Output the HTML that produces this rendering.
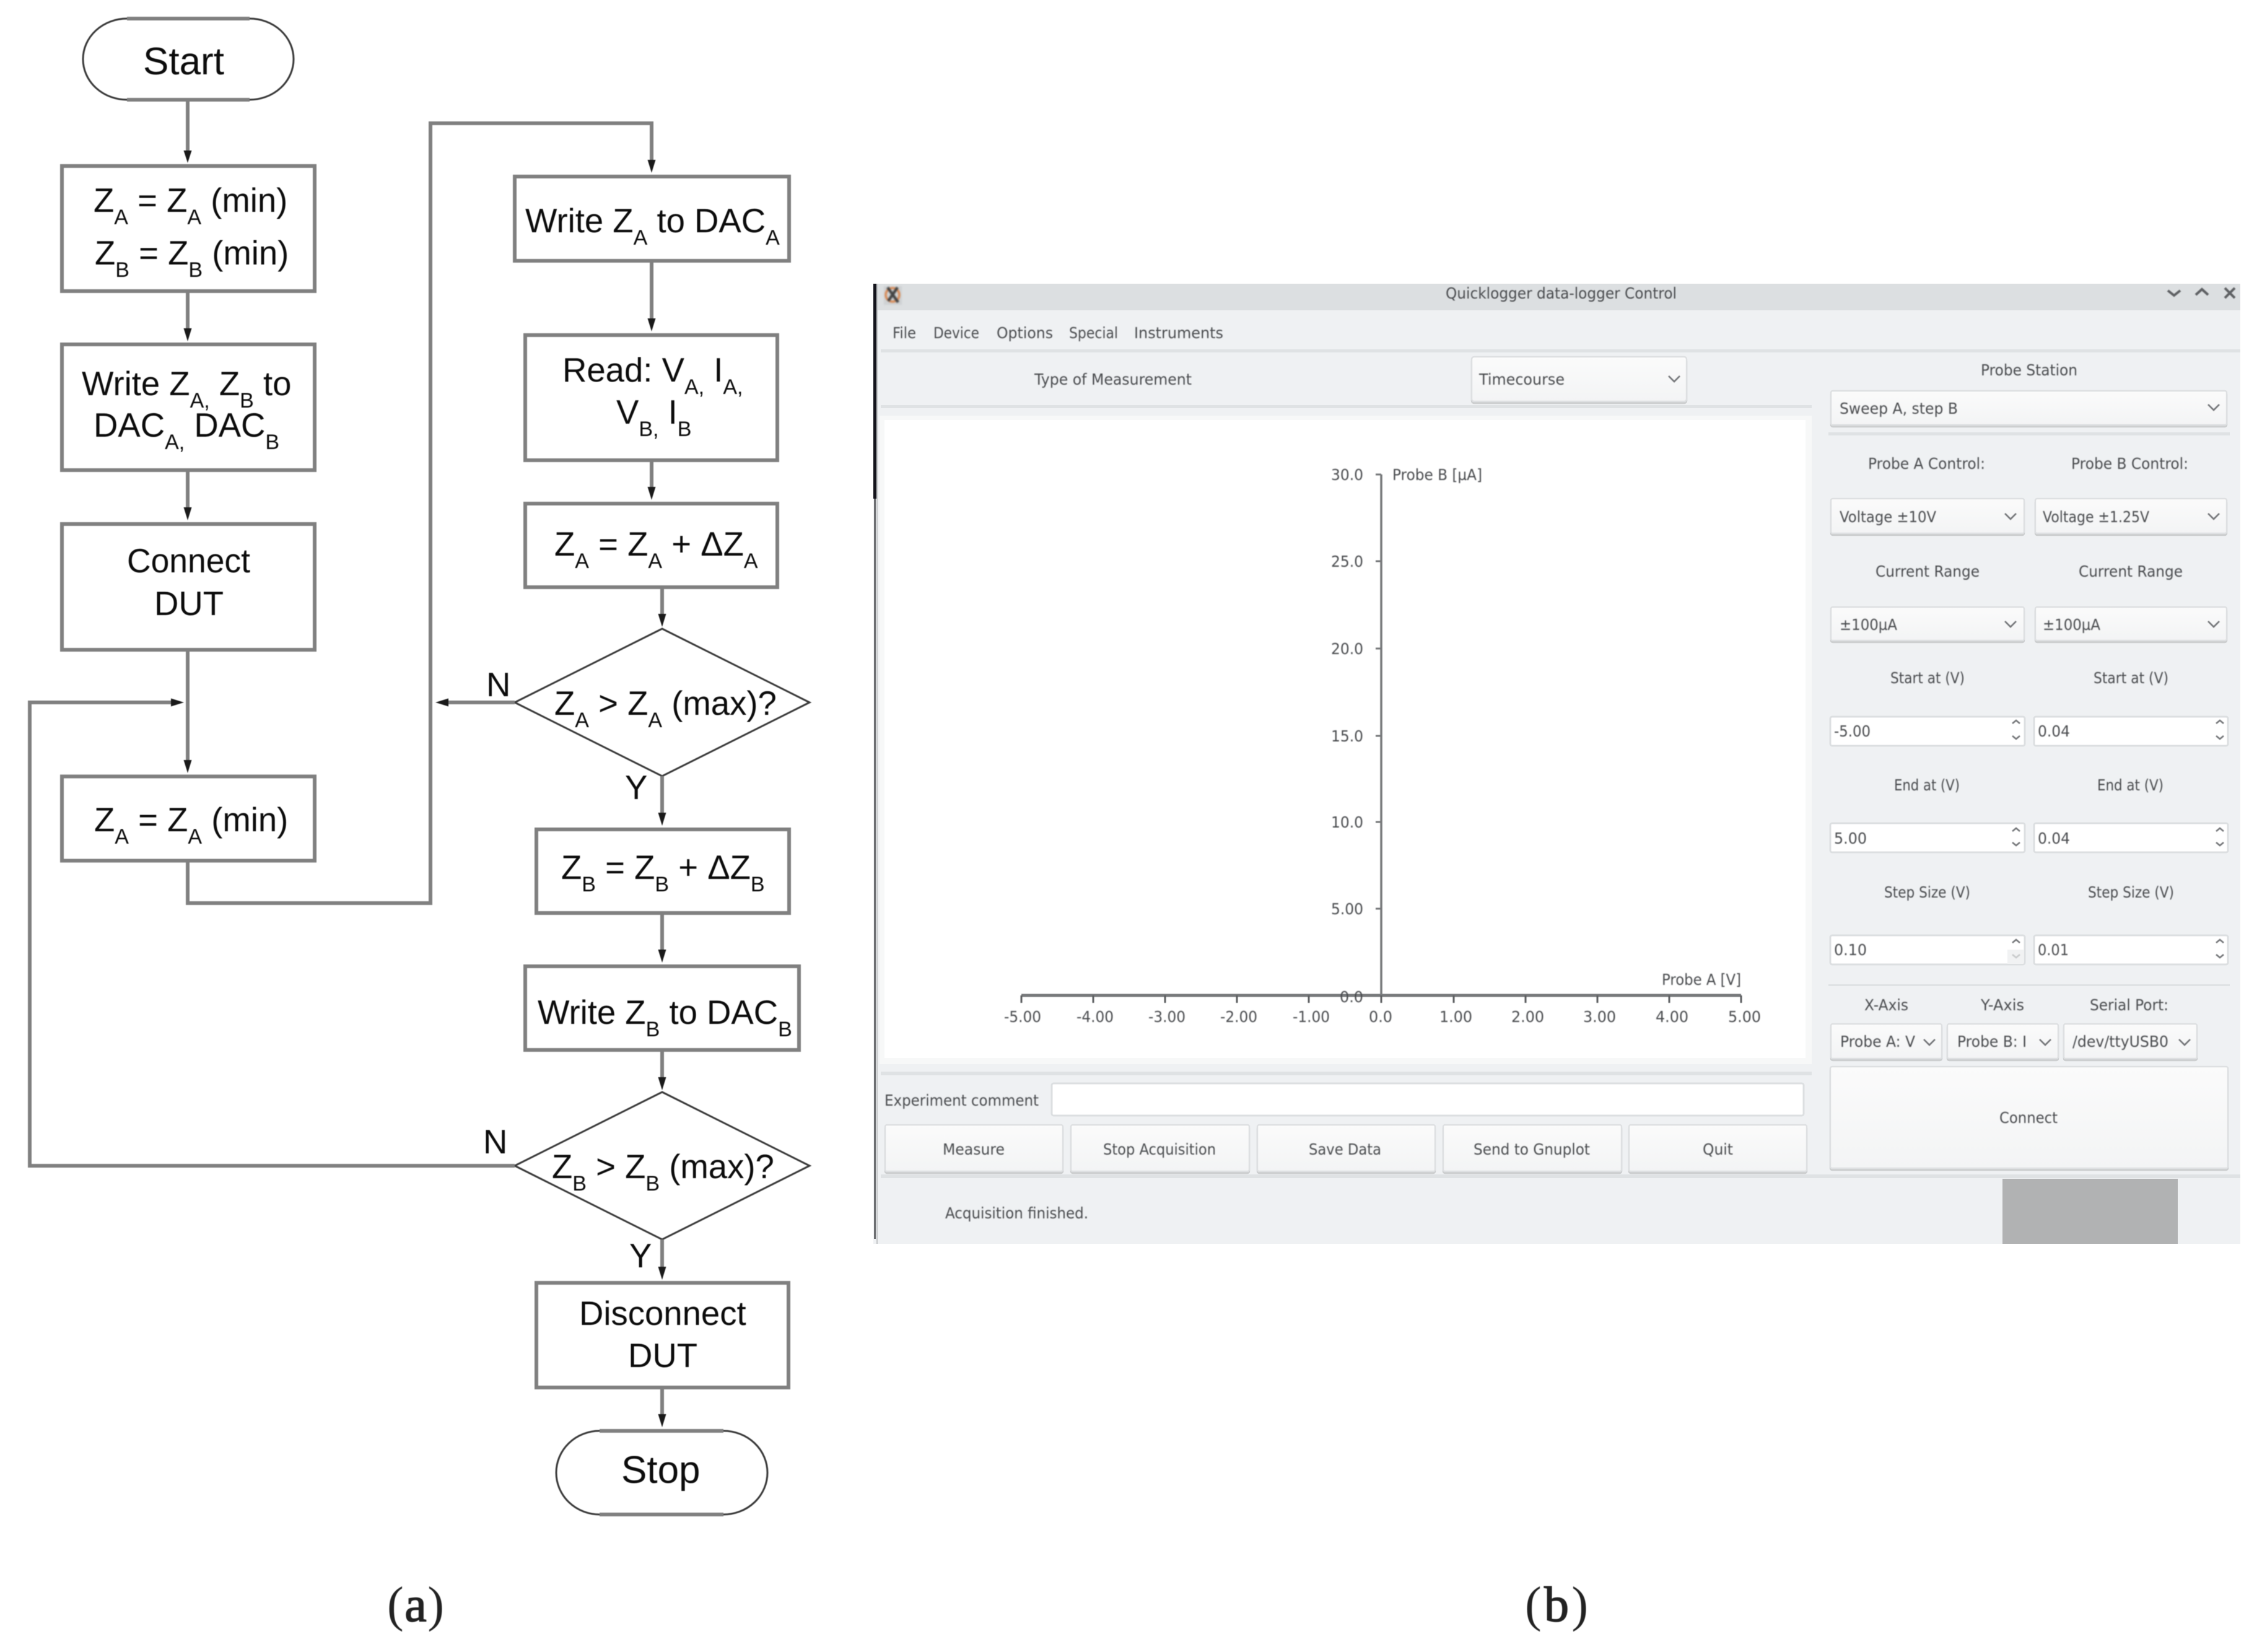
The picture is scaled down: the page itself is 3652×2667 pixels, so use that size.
<!DOCTYPE html>
<html><head><meta charset="utf-8"><title>Flowchart and Quicklogger control</title>
<style>
html,body{margin:0;padding:0;background:#fff}
svg{display:block}
.l{stroke:#808080;stroke-width:6;fill:none}
.t{stroke:#3a3a3a;stroke-width:3;fill:none}
.a{fill:#1a1a1a}
.f{font-family:"Liberation Sans",Arial,sans-serif;font-size:54.5px;fill:#0c0c0c}
.f .s{font-size:34px}
.big{font-family:"Liberation Sans",Arial,sans-serif;font-size:62px;fill:#0c0c0c}
.cap{font-family:"Liberation Serif",serif;font-size:80px;fill:#222}
.g{font-family:"DejaVu Sans",sans-serif;font-size:25px;fill:#4b4d50;filter:blur(.9px)}
.btn{fill:url(#bg);stroke:#dee0e2;stroke-width:2.5}
.inp{fill:#fff;stroke:#dcdfe1;stroke-width:3}
.ch{stroke:#737578;stroke-width:2.6;fill:none;filter:blur(.6px)}
.sep{fill:#dfe2e4}
</style></head>
<body>
<svg xmlns="http://www.w3.org/2000/svg" width="3652" height="2667" viewBox="0 0 3652 2667">
<defs><linearGradient id="bg" x1="0" y1="0" x2="0" y2="1"><stop offset="0" stop-color="#fbfbfb"/><stop offset="1" stop-color="#f3f4f5"/></linearGradient></defs>
<rect width="3652" height="2667" fill="#fff"/>

<!-- FLOWCHART -->
<g style="filter:blur(.6px)">
<path class="t" d="M205 30A71 65.500 0 0 0 134 95.500A71 65.500 0 0 0 205 161H403A71 65.500 0 0 0 474 95.500A71 65.500 0 0 0 403 30Z"/>
<path class="l" d="M205 30H403M205 161H403"/>
<rect class="l" x="100" y="268" width="408" height="202"/>
<rect class="l" x="100" y="556" width="408" height="203"/>
<rect class="l" x="100" y="846" width="408" height="203"/>
<rect class="l" x="100" y="1253.500" width="408" height="136"/>
<rect class="l" x="831" y="285" width="443" height="136"/>
<rect class="l" x="848" y="541" width="407" height="202"/>
<rect class="l" x="848" y="813" width="407" height="135"/>
<rect class="l" x="866" y="1339" width="408" height="135"/>
<rect class="l" x="848" y="1560" width="442" height="135"/>
<rect class="l" x="866" y="2071" width="407" height="169"/>
<path class="t" d="M1069 1015L1307 1134L1069 1253L831 1134Z"/>
<path class="t" d="M1069 1763L1307 1882L1069 2001L831 1882Z"/>
<path class="t" d="M968 2310A70 67.500 0 0 0 898 2377.500A70 67.500 0 0 0 968 2445H1168A71 67.500 0 0 0 1239 2377.500A71 67.500 0 0 0 1168 2310Z"/>
<path class="l" d="M968 2310H1168M968 2445H1168"/>

<path class="l" d="M303 163V248M303 470V536M303 759V826M303 1049V1236"/>
<path class="l" d="M303 1390V1458H695V199H1052V265"/>
<path class="l" d="M1052 421V520M1052 743V792M1069 948V998M1069 1253V1320M1069 1474V1540M1069 1695V1746M1069 2001V2052M1069 2240V2290"/>
<path class="l" d="M831 1134H716"/>
<path class="l" d="M831 1882H48V1134H280"/>

<g class="a">
<polygon points="296.500,243 309.500,243 303,263"/>
<polygon points="296.500,530 309.500,530 303,551"/>
<polygon points="296.500,819 309.500,819 303,840"/>
<polygon points="296.500,1227 309.500,1227 303,1248"/>
<polygon points="1045.500,258 1058.500,258 1052,279"/>
<polygon points="1045.500,514 1058.500,514 1052,535"/>
<polygon points="1045.500,786 1058.500,786 1052,807"/>
<polygon points="1062.500,991 1075.500,991 1069,1012"/>
<polygon points="1062.500,1312 1075.500,1312 1069,1333"/>
<polygon points="1062.500,1533 1075.500,1533 1069,1554"/>
<polygon points="1062.500,1739 1075.500,1739 1069,1760"/>
<polygon points="1062.500,2045 1075.500,2045 1069,2066"/>
<polygon points="1062.500,2283 1075.500,2283 1069,2304"/>
<polygon points="276,1127.500 276,1140.500 297,1134"/>
<polygon points="724,1127.500 724,1140.500 703,1134"/>
</g>

<text class="big" x="231" y="120">Start</text>
<text class="big" x="1003" y="2394">Stop</text>

<text class="f" x="151" y="342">Z<tspan class="s" dy="20">A</tspan><tspan dy="-20"> = Z</tspan><tspan class="s" dy="20">A</tspan><tspan dy="-20"> (min)</tspan></text>
<text class="f" x="153" y="427">Z<tspan class="s" dy="20">B</tspan><tspan dy="-20"> = Z</tspan><tspan class="s" dy="20">B</tspan><tspan dy="-20"> (min)</tspan></text>
<text class="f" x="132" y="638">Write Z<tspan class="s" dy="20">A,</tspan><tspan dy="-20"> Z</tspan><tspan class="s" dy="20">B</tspan><tspan dy="-20"> to</tspan></text>
<text class="f" x="151" y="705">DAC<tspan class="s" dy="20">A,</tspan><tspan dy="-20"> DAC</tspan><tspan class="s" dy="20">B</tspan></text>
<text class="f" x="205" y="924" textLength="199" lengthAdjust="spacingAndGlyphs">Connect</text>
<text class="f" x="249" y="993">DUT</text>
<text class="f" x="152" y="1342">Z<tspan class="s" dy="20">A</tspan><tspan dy="-20"> = Z</tspan><tspan class="s" dy="20">A</tspan><tspan dy="-20"> (min)</tspan></text>

<text class="f" x="848" y="375">Write Z<tspan class="s" dy="20">A</tspan><tspan dy="-20"> to DAC</tspan><tspan class="s" dy="20">A</tspan></text>
<text class="f" x="908" y="616">Read: V<tspan class="s" dy="20">A,</tspan><tspan dy="-20"> I</tspan><tspan class="s" dy="20">A,</tspan></text>
<text class="f" x="995" y="684">V<tspan class="s" dy="20">B,</tspan><tspan dy="-20"> I</tspan><tspan class="s" dy="20">B</tspan></text>
<text class="f" x="895" y="897">Z<tspan class="s" dy="20">A</tspan><tspan dy="-20"> = Z</tspan><tspan class="s" dy="20">A</tspan><tspan dy="-20"> + ΔZ</tspan><tspan class="s" dy="20">A</tspan></text>
<text class="f" x="895" y="1154">Z<tspan class="s" dy="20">A</tspan><tspan dy="-20"> &gt; Z</tspan><tspan class="s" dy="20">A</tspan><tspan dy="-20"> (max)?</tspan></text>
<text class="f" x="785" y="1124">N</text>
<text class="f" x="1009" y="1290">Y</text>
<text class="f" x="906" y="1419">Z<tspan class="s" dy="20">B</tspan><tspan dy="-20"> = Z</tspan><tspan class="s" dy="20">B</tspan><tspan dy="-20"> + ΔZ</tspan><tspan class="s" dy="20">B</tspan></text>
<text class="f" x="868" y="1653">Write Z<tspan class="s" dy="20">B</tspan><tspan dy="-20"> to DAC</tspan><tspan class="s" dy="20">B</tspan></text>
<text class="f" x="891" y="1902">Z<tspan class="s" dy="20">B</tspan><tspan dy="-20"> &gt; Z</tspan><tspan class="s" dy="20">B</tspan><tspan dy="-20"> (max)?</tspan></text>
<text class="f" x="780" y="1862">N</text>
<text class="f" x="1016" y="2046">Y</text>
<text class="f" x="935" y="2139">Disconnect</text>
<text class="f" x="1014" y="2207">DUT</text>

<text class="cap" x="625" y="2617" textLength="92">(<tspan stroke="#222" stroke-width="1.500">a</tspan>)</text>
<text class="cap" x="2462" y="2617" textLength="102">(<tspan stroke="#222" stroke-width="1.500">b</tspan>)</text>
</g>

<!-- GUI WINDOW -->
<rect x="1410" y="458" width="2207" height="1550" fill="#eff1f3"/>
<rect x="1410" y="458" width="2207" height="43" fill="#dcdfe1"/>
<rect x="1410" y="458" width="5" height="347" fill="#14141c"/>
<rect x="1411" y="805" width="3" height="1195" fill="#6e7073"/>
<rect x="1415" y="458" width="2" height="1550" fill="#c4c6c8"/>
<g style="filter:blur(1.400px)">
<rect x="1427" y="462" width="29" height="30" fill="#cfd2d4"/>
<ellipse cx="1441" cy="476" rx="11" ry="11" fill="none" stroke="#d98a55" stroke-width="3.500"/>
<path d="M1433 464L1450 488M1449 464L1434 486" stroke="#444" stroke-width="4.500"/>
</g>
<path d="M3500 469L3510 477L3520 469M3545 476L3555 467L3565 476M3592 465L3608 481M3608 465L3592 481" fill="none" stroke="#5f6164" stroke-width="4" style="filter:blur(.9px)"/>

<rect class="sep" x="1422" y="564" width="2195" height="5"/>
<rect class="sep" x="1422" y="654" width="1503" height="5"/>
<rect x="1420" y="671" width="1505" height="1047" fill="#f7f8f8"/>
<rect x="1428" y="678" width="1487" height="1030" fill="#fff"/>
<rect class="sep" x="1422" y="1730" width="1503" height="6"/>
<rect class="sep" x="1422" y="1896" width="2195" height="6"/>
<rect class="sep" x="2952" y="698" width="648" height="5"/>
<rect class="sep" x="2952" y="1589" width="648" height="3"/>
<rect x="3233" y="1903" width="283" height="105" fill="#b1b2b3"/>

<!-- combos & buttons -->
<g style="filter:drop-shadow(0 3px 0 #cdcfd0)">
<rect class="btn" x="2376" y="576" width="347" height="72" rx="4"/>
<rect class="btn" x="2956" y="631" width="639" height="55" rx="3"/>
<rect class="btn" x="2956" y="805" width="312" height="56" rx="3"/>
<rect class="btn" x="3286" y="805" width="309" height="56" rx="3"/>
<rect class="btn" x="2956" y="980" width="312" height="54" rx="3"/>
<rect class="btn" x="3286" y="980" width="309" height="54" rx="3"/>
<rect class="btn" x="2956" y="1653" width="179" height="56" rx="3"/>
<rect class="btn" x="3144" y="1653" width="179" height="56" rx="3"/>
<rect class="btn" x="3332" y="1653" width="215" height="56" rx="3"/>
<rect class="btn" x="2955" y="1722" width="642" height="164" rx="3"/>
<rect class="btn" x="1429" y="1816" width="287" height="75" rx="3"/>
<rect class="btn" x="1729" y="1816" width="288" height="75" rx="3"/>
<rect class="btn" x="2030" y="1816" width="287" height="75" rx="3"/>
<rect class="btn" x="2330" y="1816" width="288" height="75" rx="3"/>
<rect class="btn" x="2630" y="1816" width="287" height="75" rx="3"/>
</g>
<!-- inputs -->
<rect class="inp" x="1698" y="1749" width="1214" height="52" rx="3"/>
<rect class="inp" x="2955" y="1157" width="314" height="47" rx="3"/>
<rect class="inp" x="3284" y="1157" width="313" height="47" rx="3"/>
<rect class="inp" x="2955" y="1329" width="314" height="47" rx="3"/>
<rect class="inp" x="3284" y="1329" width="313" height="47" rx="3"/>
<rect class="inp" x="2955" y="1510" width="314" height="47" rx="3"/>
<rect class="inp" x="3284" y="1510" width="313" height="47" rx="3"/>
<rect x="3241" y="1533" width="26" height="23" fill="#f1f2f3"/>

<!-- chevrons -->
<path class="ch" d="M2694 607L2703 616L2712 607M3565 653L3574 662L3583 653M3237 829L3246 838L3255 829M3565 829L3574 838L3583 829M3237 1003L3246 1012L3255 1003M3565 1003L3574 1012L3583 1003M3106 1678L3115 1687L3124 1678M3293 1678L3302 1687L3311 1678M3518 1678L3527 1687L3536 1678"/>
<path class="ch" style="stroke-width:2.500" d="M3249 1168L3255 1163L3261 1168M3249 1188L3255 1193L3261 1188M3578 1168L3584 1163L3590 1168M3578 1188L3584 1193L3590 1188M3249 1342L3255 1337L3261 1342M3249 1360L3255 1365L3261 1360M3578 1342L3584 1337L3590 1342M3578 1360L3584 1365L3590 1360M3249 1522L3255 1517L3261 1522M3578 1522L3584 1517L3590 1522M3578 1541L3584 1546L3590 1541"/>
<path class="ch" style="stroke-width:2.500;stroke:#c8cacb" d="M3249 1541L3255 1546L3261 1541"/>

<!-- plot axes -->
<g style="filter:blur(.5px)">
<path d="M2230 766V1607" stroke="#77797b" stroke-width="3.500" fill="none"/>
<path d="M1649 1607H2811" stroke="#77797b" stroke-width="5" fill="none"/>
<path d="M2221 766H2230M2221 906H2230M2221 1047H2230M2221 1188H2230M2221 1327H2230M2221 1467H2230" stroke="#77797b" stroke-width="3" fill="none"/>
<path d="M1649 1607V1619M1765 1607V1619M1881 1607V1619M1997 1607V1619M2113 1607V1619M2230 1607V1619M2347 1607V1619M2463 1607V1619M2579 1607V1619M2695 1607V1619M2811 1607V1619" stroke="#5b5d5f" stroke-width="3" fill="none"/>
</g>

<!-- GUI text -->
<g class="g">
<text x="2334" y="482" textLength="373" lengthAdjust="spacingAndGlyphs">Quicklogger data-logger Control</text>
<text x="1441" y="546" textLength="38" lengthAdjust="spacingAndGlyphs">File</text>
<text x="1507" y="546" textLength="74" lengthAdjust="spacingAndGlyphs">Device</text>
<text x="1609" y="546" textLength="91" lengthAdjust="spacingAndGlyphs">Options</text>
<text x="1726" y="546" textLength="79" lengthAdjust="spacingAndGlyphs">Special</text>
<text x="1831" y="546" textLength="144" lengthAdjust="spacingAndGlyphs">Instruments</text>
<text x="1670" y="621" textLength="254" lengthAdjust="spacingAndGlyphs">Type of Measurement</text>
<text x="2388" y="621" textLength="138" lengthAdjust="spacingAndGlyphs">Timecourse</text>

<text x="2149" y="775" textLength="52" lengthAdjust="spacingAndGlyphs">30.0</text>
<text x="2149" y="915" textLength="52" lengthAdjust="spacingAndGlyphs">25.0</text>
<text x="2149" y="1056" textLength="52" lengthAdjust="spacingAndGlyphs">20.0</text>
<text x="2149" y="1197" textLength="52" lengthAdjust="spacingAndGlyphs">15.0</text>
<text x="2149" y="1336" textLength="52" lengthAdjust="spacingAndGlyphs">10.0</text>
<text x="2149" y="1476" textLength="52" lengthAdjust="spacingAndGlyphs">5.00</text>
<text x="2163" y="1618" textLength="38" lengthAdjust="spacingAndGlyphs">0.0</text>
<text x="2248" y="775" textLength="145" lengthAdjust="spacingAndGlyphs">Probe B [µA]</text>
<text x="2683" y="1590" textLength="128" lengthAdjust="spacingAndGlyphs">Probe A [V]</text>

<text x="1621" y="1650" textLength="60" lengthAdjust="spacingAndGlyphs">-5.00</text>
<text x="1738" y="1650" textLength="60" lengthAdjust="spacingAndGlyphs">-4.00</text>
<text x="1854" y="1650" textLength="60" lengthAdjust="spacingAndGlyphs">-3.00</text>
<text x="1970" y="1650" textLength="60" lengthAdjust="spacingAndGlyphs">-2.00</text>
<text x="2087" y="1650" textLength="60" lengthAdjust="spacingAndGlyphs">-1.00</text>
<text x="2210" y="1650" textLength="38" lengthAdjust="spacingAndGlyphs">0.0</text>
<text x="2324" y="1650" textLength="53" lengthAdjust="spacingAndGlyphs">1.00</text>
<text x="2440" y="1650" textLength="53" lengthAdjust="spacingAndGlyphs">2.00</text>
<text x="2556" y="1650" textLength="53" lengthAdjust="spacingAndGlyphs">3.00</text>
<text x="2673" y="1650" textLength="53" lengthAdjust="spacingAndGlyphs">4.00</text>
<text x="2790" y="1650" textLength="53" lengthAdjust="spacingAndGlyphs">5.00</text>

<text x="1428" y="1785" textLength="249" lengthAdjust="spacingAndGlyphs">Experiment comment</text>
<text x="1522" y="1864" textLength="100" lengthAdjust="spacingAndGlyphs">Measure</text>
<text x="1781" y="1864" textLength="182" lengthAdjust="spacingAndGlyphs">Stop Acquisition</text>
<text x="2113" y="1864" textLength="117" lengthAdjust="spacingAndGlyphs">Save Data</text>
<text x="2379" y="1864" textLength="188" lengthAdjust="spacingAndGlyphs">Send to Gnuplot</text>
<text x="2749" y="1864" textLength="49" lengthAdjust="spacingAndGlyphs">Quit</text>
<text x="1526" y="1967" textLength="231" lengthAdjust="spacingAndGlyphs">Acquisition finished.</text>

<text x="3198" y="606" textLength="156" lengthAdjust="spacingAndGlyphs">Probe Station</text>
<text x="2970" y="668" textLength="191" lengthAdjust="spacingAndGlyphs">Sweep A, step B</text>
<text x="3016" y="757" textLength="189" lengthAdjust="spacingAndGlyphs">Probe A Control:</text>
<text x="3344" y="757" textLength="189" lengthAdjust="spacingAndGlyphs">Probe B Control:</text>
<text x="2970" y="843" textLength="156" lengthAdjust="spacingAndGlyphs">Voltage ±10V</text>
<text x="3298" y="843" textLength="172" lengthAdjust="spacingAndGlyphs">Voltage ±1.25V</text>
<text x="3028" y="931" textLength="168" lengthAdjust="spacingAndGlyphs">Current Range</text>
<text x="3356" y="931" textLength="168" lengthAdjust="spacingAndGlyphs">Current Range</text>
<text x="2970" y="1017" textLength="93" lengthAdjust="spacingAndGlyphs">±100µA</text>
<text x="3298" y="1017" textLength="93" lengthAdjust="spacingAndGlyphs">±100µA</text>

<text x="3052" y="1103" textLength="120" lengthAdjust="spacingAndGlyphs">Start at (V)</text>
<text x="3380" y="1103" textLength="121" lengthAdjust="spacingAndGlyphs">Start at (V)</text>
<text x="2961" y="1189" textLength="59" lengthAdjust="spacingAndGlyphs">-5.00</text>
<text x="3290" y="1189" textLength="52" lengthAdjust="spacingAndGlyphs">0.04</text>
<text x="3058" y="1276" textLength="106" lengthAdjust="spacingAndGlyphs">End at (V)</text>
<text x="3386" y="1276" textLength="107" lengthAdjust="spacingAndGlyphs">End at (V)</text>
<text x="2961" y="1362" textLength="53" lengthAdjust="spacingAndGlyphs">5.00</text>
<text x="3290" y="1362" textLength="52" lengthAdjust="spacingAndGlyphs">0.04</text>
<text x="3042" y="1449" textLength="139" lengthAdjust="spacingAndGlyphs">Step Size (V)</text>
<text x="3371" y="1449" textLength="139" lengthAdjust="spacingAndGlyphs">Step Size (V)</text>
<text x="2961" y="1542" textLength="53" lengthAdjust="spacingAndGlyphs">0.10</text>
<text x="3290" y="1542" textLength="50" lengthAdjust="spacingAndGlyphs">0.01</text>
<text x="3010" y="1631" textLength="71" lengthAdjust="spacingAndGlyphs">X-Axis</text>
<text x="3198" y="1631" textLength="70" lengthAdjust="spacingAndGlyphs">Y-Axis</text>
<text x="3374" y="1631" textLength="127" lengthAdjust="spacingAndGlyphs">Serial Port:</text>
<text x="2971" y="1690" textLength="121" lengthAdjust="spacingAndGlyphs">Probe A: V</text>
<text x="3160" y="1690" textLength="112" lengthAdjust="spacingAndGlyphs">Probe B: I</text>
<text x="3346" y="1690" textLength="155" lengthAdjust="spacingAndGlyphs">/dev/ttyUSB0</text>
<text x="3228" y="1813" textLength="94" lengthAdjust="spacingAndGlyphs">Connect</text>
</g>
</svg>
</body></html>
